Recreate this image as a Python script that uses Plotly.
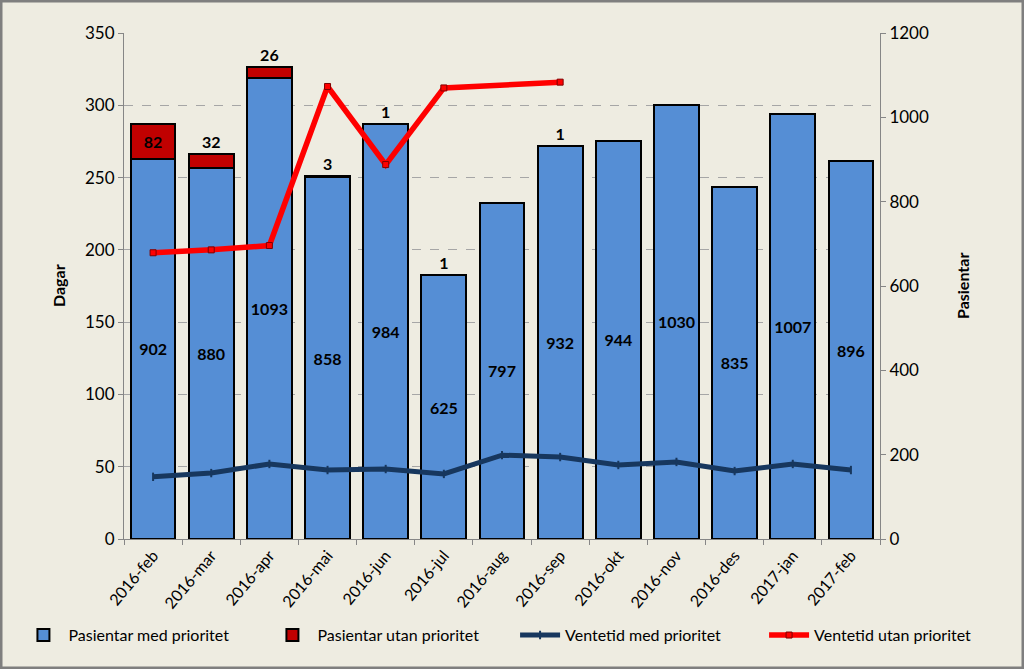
import plotly.graph_objects as go

months = ["2016-feb", "2016-mar", "2016-apr", "2016-mai", "2016-jun", "2016-jul",
          "2016-aug", "2016-sep", "2016-okt", "2016-nov", "2016-des", "2017-jan", "2017-feb"]
pas_med = [902, 880, 1093, 858, 984, 625, 797, 932, 944, 1030, 835, 1007, 896]
pas_utan = [82, 32, 26, 3, 1, 1, 0, 1, 0, 0, 0, 0, 0]
vent_med = [43, 45.6, 51.9, 47.7, 48.4, 45, 58, 56.7, 51.2, 53.3, 47, 51.9, 47.7]
vent_utan = [198, 200, 203, 313, 259, 312, None, 316, None, None, None, None, None]

BG = "#EEECE1"
FONT = "Lato"
W, H = 1024, 669
ML, MR, MT, MB = 124, 144, 33, 130
PW, PH = W - ML - MR, H - MT - MB

fig = go.Figure()

fig.add_trace(go.Bar(
    x=months, y=pas_med, name="Pasientar med prioritet", yaxis="y", legend="legend",
    marker=dict(color="#558ED5", line=dict(color="#000000", width=2)),
    text=[str(v) for v in pas_med], textposition="inside", insidetextanchor="middle",
    textfont=dict(family=FONT, size=16, color="#000000", weight="bold"),
    constraintext="none", textangle=0,
))
fig.add_trace(go.Bar(
    x=months, y=pas_utan, name="Pasientar utan prioritet", yaxis="y", legend="legend",
    marker=dict(color="#C00000", line=dict(color="#000000", width=2)),
    text=[str(v) if v > 0 else "" for v in pas_utan],
    textposition=["inside" if v > 50 else "outside" for v in pas_utan],
    insidetextanchor="middle",
    textfont=dict(family=FONT, size=16, color="#000000", weight="bold"),
    constraintext="none", textangle=0, cliponaxis=False,
))
fig.add_trace(go.Scatter(
    x=months, y=vent_med, name="Ventetid med prioritet", yaxis="y2", legend="legend2",
    mode="lines+markers",
    line=dict(color="#17375E", width=5),
    marker=dict(symbol="line-ns", size=6, color="#17375E", line=dict(color="#17375E", width=2)),
))
fig.add_trace(go.Scatter(
    x=months, y=vent_utan, name="Ventetid utan prioritet", yaxis="y2", legend="legend2",
    mode="lines+markers", connectgaps=True,
    line=dict(color="#FF0000", width=5.5),
    marker=dict(symbol="square", size=6, color="#FF0000", line=dict(color="#7F0000", width=1)),
))

grid_vals = [v * 1200 / 350 for v in range(50, 351, 50)]

leg_common = dict(orientation="h", xref="container", yref="paper",
                  xanchor="left", y=-0.19, yanchor="middle",
                  font=dict(family=FONT, size=16), itemwidth=40,
                  entrywidth=194, entrywidthmode="pixels",
                  bgcolor="rgba(0,0,0,0)", traceorder="normal")

fig.update_layout(
    width=W, height=H,
    margin=dict(l=ML, r=MR, t=MT, b=MB, autoexpand=False),
    paper_bgcolor=BG, plot_bgcolor=BG,
    barmode="stack", bargap=0.23,
    font=dict(family=FONT, size=16, color="#000000"),
    showlegend=True,
    legend=dict(x=0.018, **leg_common),
    legend2=dict(x=0.503, **leg_common),
    xaxis=dict(
        type="category", range=[-0.5, len(months) - 0.5], tickangle=-50,
        showline=True, linecolor="#868686", linewidth=1,
        ticks="outside", tickson="boundaries", ticklen=5, tickcolor="#868686",
        tickfont=dict(family=FONT, size=16), showgrid=False,
    ),
    yaxis=dict(
        side="right", range=[0, 1200], dtick=200, showline=True, linecolor="#868686",
        ticks="outside", ticklen=5, tickcolor="#868686", showgrid=False, zeroline=False,
        tickfont=dict(family=FONT, size=17),
        minor=dict(tickvals=grid_vals, showgrid=True, gridcolor="#A6A6A6", griddash="dash",
                   gridwidth=1, ticks=""),
    ),
    yaxis2=dict(
        side="left", overlaying="y", range=[0, 350], dtick=50, showline=True,
        linecolor="#868686", ticks="outside", ticklen=5, tickcolor="#868686",
        showgrid=False, zeroline=False, tickfont=dict(family=FONT, size=17),
    ),
    annotations=[
        dict(text="<b>Dagar</b>", xref="paper", yref="paper", x=(58 - ML) / PW, y=0.5,
             textangle=-90, showarrow=False, font=dict(family=FONT, size=16),
             xanchor="center", yanchor="middle"),
        dict(text="<b>Pasientar</b>", xref="paper", yref="paper", x=(962 - ML) / PW, y=0.5,
             textangle=-90, showarrow=False, font=dict(family=FONT, size=16),
             xanchor="center", yanchor="middle"),
    ],
    shapes=[dict(
        type="rect", xref="paper", yref="paper",
        x0=-(ML - 1) / PW, x1=1 + (MR - 1) / PW, y0=-(MB - 1) / PH, y1=1 + (MT - 1) / PH,
        line=dict(color="#7F7F7F", width=3), fillcolor="rgba(0,0,0,0)", layer="above",
    )],
)

fig.write_html("out.html", config={"displayModeBar": False},
               post_script="document.body.style.margin='0';document.body.style.overflow='hidden';")
